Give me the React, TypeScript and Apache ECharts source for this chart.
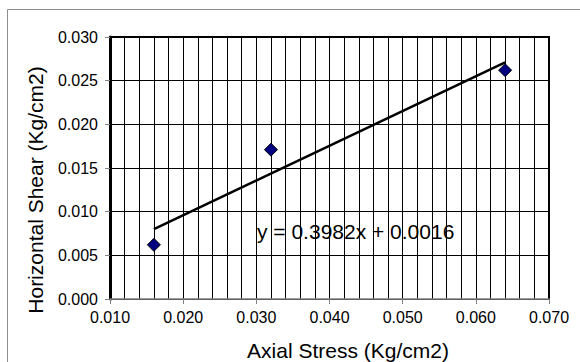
import React, { useEffect, useRef } from "react";
import * as echarts from "echarts";

const axialStress = [0.016, 0.032, 0.064];
const horizontalShear = [0.0062, 0.0171, 0.0262];
const trendX = [0.016, 0.064];
const trendY = [0.008, 0.0271];
const equationLabel = "y = 0.3982x + 0.0016";
const xTitle = "Axial Stress (Kg/cm2)";
const yTitle = "Horizontal Shear (Kg/cm2)";

const FONT = "'Liberation Sans', Arial, sans-serif";

export default function App() {
  const ref = useRef<HTMLDivElement>(null);
  useEffect(() => {
    if (!ref.current) return;
    const chart = echarts.init(ref.current, undefined, { renderer: "svg" });
    const pts = axialStress.map((x, i) => [x, horizontalShear[i]]);
    const trend = trendX.map((x, i) => [x, trendY[i]]);
    chart.setOption({
      animation: false,
      backgroundColor: "#ffffff",
      textStyle: { fontFamily: FONT },
      grid: { left: 110, top: 37, right: 31, bottom: 63, show: false },
      xAxis: [
        {
          type: "value",
          min: 0.01,
          max: 0.07,
          interval: 0.01,
          axisLine: { show: true, onZero: false, lineStyle: { color: "#808080", width: 1.5 } },
          axisTick: { show: true, inside: false, length: 5, lineStyle: { color: "#808080", width: 1 } },
          axisLabel: {
            color: "#000",
            fontSize: 16,
            fontFamily: FONT,
            margin: 10,
            formatter: (v: number) => v.toFixed(3),
          },
          splitLine: { show: true, lineStyle: { color: "#000", width: 1 } },
          minorTick: { show: false, splitNumber: 5 },
          minorSplitLine: { show: true, lineStyle: { color: "#000", width: 1 } },
        },
        {
          type: "value",
          position: "top",
          min: 0.01,
          max: 0.07,
          interval: 0.01,
          axisLine: { show: true, onZero: false, lineStyle: { color: "#000", width: 2 } },
          axisTick: { show: false },
          axisLabel: { show: false },
          splitLine: { show: false },
        },
      ],
      yAxis: [
        {
          type: "value",
          min: 0,
          max: 0.03,
          interval: 0.005,
          axisLine: { show: true, onZero: false, lineStyle: { color: "#000", width: 3 } },
          axisTick: { show: true, inside: false, length: 5, lineStyle: { color: "#808080", width: 1 } },
          axisLabel: {
            color: "#000",
            fontSize: 16,
            fontFamily: FONT,
            margin: 12,
            formatter: (v: number) => v.toFixed(3),
          },
          splitLine: { show: true, lineStyle: { color: "#000", width: 1 } },
        },
        {
          type: "value",
          position: "right",
          min: 0,
          max: 0.03,
          interval: 0.005,
          axisLine: { show: true, onZero: false, lineStyle: { color: "#000", width: 2 } },
          axisTick: { show: false },
          axisLabel: { show: false },
          splitLine: { show: false },
        },
      ],
      series: [
        {
          type: "line",
          data: trend,
          xAxisIndex: 0,
          yAxisIndex: 0,
          showSymbol: false,
          symbol: "none",
          lineStyle: { color: "#000", width: 2.5 },
          z: 3,
        },
        {
          type: "scatter",
          data: pts,
          xAxisIndex: 0,
          yAxisIndex: 0,
          symbol: "diamond",
          symbolSize: 13,
          itemStyle: { color: "#000080", borderColor: "#000", borderWidth: 1, opacity: 1 },
          z: 4,
        },
      ],
      graphic: [
        {
          type: "rect",
          shape: { x: 7.5, y: 9.5, width: 640, height: 400 },
          style: { fill: "none", stroke: "#8c8c8c", lineWidth: 1 },
          silent: true,
          z: -10,
        },
        {
          type: "text",
          x: 257,
          y: 231,
          style: {
            text: equationLabel,
            fontSize: 21,
            fontFamily: FONT,
            fill: "#000",
            align: "left",
            verticalAlign: "middle",
          },
          z: 10,
        },
        {
          type: "text",
          x: 348,
          y: 350,
          style: {
            text: xTitle,
            fontSize: 21,
            fontFamily: FONT,
            fill: "#000",
            align: "center",
            verticalAlign: "middle",
          },
        },
        {
          type: "text",
          x: 35,
          y: 190,
          rotation: Math.PI / 2,
          style: {
            text: yTitle,
            fontSize: 21,
            fontFamily: FONT,
            fill: "#000",
            align: "center",
            verticalAlign: "middle",
          },
        },
      ],
    });
    return () => chart.dispose();
  }, []);
  return (
    <div
      ref={ref}
      style={{ position: "fixed", left: 0, top: 0, width: 580, height: 362, background: "#fff" }}
    />
  );
}
